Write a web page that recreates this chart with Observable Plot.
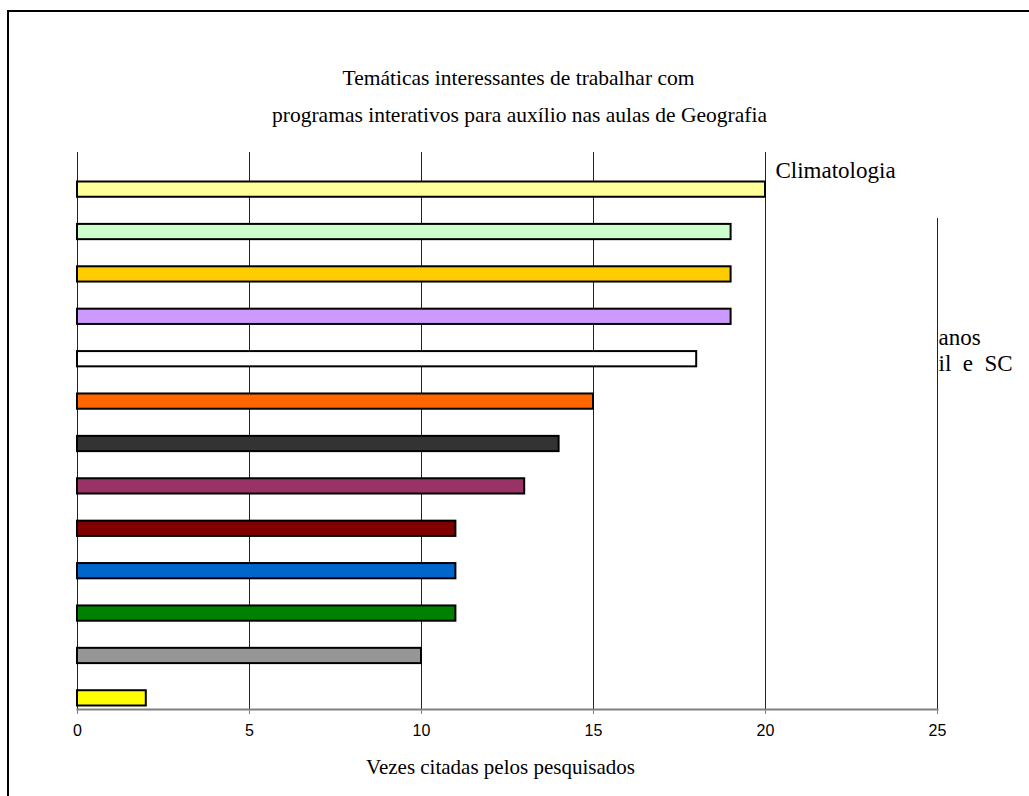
<!DOCTYPE html>
<html><head><meta charset="utf-8">
<script src="https://cdn.jsdelivr.net/npm/d3@7"></script>
<script src="https://cdn.jsdelivr.net/npm/@observablehq/plot@0.6"></script>
<style>
html,body{margin:0;padding:0;background:#fff;}
#wrap{position:relative;width:1029px;height:796px;overflow:hidden;}
#border{position:absolute;left:7px;top:10px;width:1040px;height:800px;border-top:2px solid #000;border-left:2px solid #000;}
#chart{position:absolute;left:0;top:0;}
</style></head><body>
<div id="wrap"><div id="border"></div><div id="chart"></div></div>
<script>
const categories = ["Climatologia","Tema 2","Tema 3","Tema 4","Tema 5","Tema 6","Tema 7","Tema 8","Tema 9","Tema 10","Tema 11","Tema 12","Tema 13"];
const values = [20,19,19,19,18,15,14,13,11,11,11,10,2];
const palette = ["#FFFF99","#CCFFCC","#FFCC00","#CC99FF","#FFFFFF","#FF6600","#333333","#993366","#800000","#0066CC","#008000","#969696","#FFFF00"];
const ticks = [0,5,10,15,20,25];
const titleLines = ["Temáticas interessantes de trabalhar com","programas interativos para auxílio nas aulas de Geografia"];
const axisTitle = "Vezes citadas pelos pesquisados";
const legendVisible = "Climatologia";
const legendFragments = ["anos","il\u00a0\u00a0e\u00a0\u00a0SC"];

const data = categories.map((c,i)=>({category:c, value:values[i]}));
const serif = "'Liberation Serif','Times New Roman',serif";
const txt = {fontFamily:serif, fill:"#000", lineAnchor:"middle"};

const chart = Plot.plot({
  width:1029, height:796,
  marginLeft:77, marginRight:92, marginTop:152, marginBottom:87,
  style:{background:"transparent", overflow:"visible"},
  x:{domain:[0,25]},
  y:{type:"band", domain:categories, range:[181.5,705.5], paddingInner:0.64, paddingOuter:0, round:false, axis:null},
  color:{type:"ordinal", domain:categories, range:palette},
  marks:[
    Plot.ruleX(ticks.slice(0,5), {stroke:"#222", strokeWidth:1}),
    Plot.ruleX(ticks.slice(5), {stroke:"#222", strokeWidth:1, insetTop:66}),
    Plot.frame({anchor:"bottom", stroke:"#808080", strokeWidth:2}),
    Plot.axisX({ticks, tickSize:5, tickPadding:10, stroke:"#808080", fill:"#000", fontSize:16, fontFamily:"'Liberation Sans',Arial,sans-serif", label:null, tickFormat:d=>String(d)}),
    Plot.barX(data, {x:"value", y:"category", fill:"category", stroke:"#000", strokeWidth:2}),
    Plot.text([legendVisible], {...txt, frameAnchor:"top-right", dx:-162, dy:18, textAnchor:"start", fontSize:23}),
    Plot.text([legendFragments[0]], {...txt, frameAnchor:"top-right", dx:1, dy:185, textAnchor:"start", fontSize:23}),
    Plot.text([legendFragments[1]], {...txt, frameAnchor:"top-right", dx:1, dy:211, textAnchor:"start", fontSize:23}),
    Plot.text([titleLines[0]], {...txt, frameAnchor:"top", dx:11, dy:-74, fontSize:21.5}),
    Plot.text([titleLines[1]], {...txt, frameAnchor:"top", dx:12, dy:-37, fontSize:21.5}),
    Plot.text([axisTitle], {...txt, frameAnchor:"bottom", dx:-7, dy:58, fontSize:21})
  ]
});
document.getElementById("chart").appendChild(chart);
</script>
</body></html>
